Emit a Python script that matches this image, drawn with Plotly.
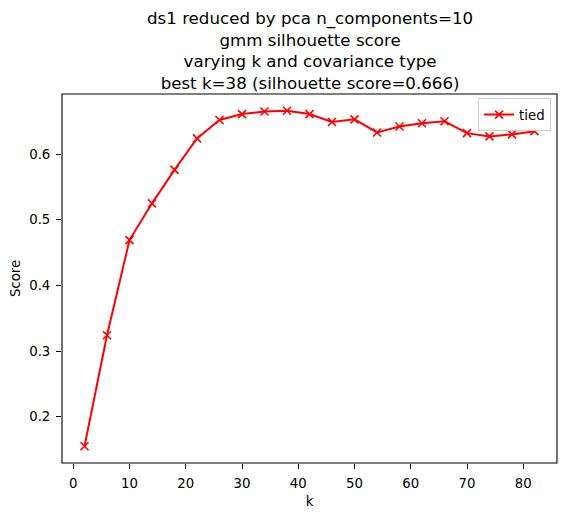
import plotly.graph_objects as go

k_values = [2, 6, 10, 14, 18, 22, 26, 30, 34, 38, 42, 46, 50, 54, 58, 62, 66, 70, 74, 78, 82]
tied_scores = [0.155, 0.324, 0.469, 0.525, 0.576, 0.624, 0.652, 0.661, 0.665, 0.666, 0.661,
               0.649, 0.653, 0.633, 0.642, 0.647, 0.650, 0.632, 0.627, 0.630, 0.635]
series_name = "tied"
title_lines = [
    "ds1 reduced by pca n_components=10",
    "gmm silhouette score",
    "varying k and covariance type",
    "best k=38 (silhouette score=0.666)",
]
x_ticks = [0, 10, 20, 30, 40, 50, 60, 70, 80]
y_ticks = [0.2, 0.3, 0.4, 0.5, 0.6]

FONT = "DejaVu Sans"

fig = go.Figure()
fig.add_trace(go.Scatter(
    x=k_values, y=tied_scores, mode="lines+markers", name=series_name,
    line=dict(color="red", width=2),
    marker=dict(symbol="x-thin", size=8, color="red", line=dict(color="red", width=1.6)),
))

axis_common = dict(
    showline=False,
    ticks="outside", ticklen=5, tickwidth=1.1, tickcolor="black",
    showgrid=False, zeroline=False, automargin=False,
    ticklabelstandoff=3,
    tickfont=dict(family=FONT, size=13.3, color="black"),
)

# page body has an 8px margin, so the figure is sized/offset to compensate
fig.update_layout(
    width=554, height=501,
    margin=dict(l=54, r=5, t=86, b=46, autoexpand=False),
    paper_bgcolor="white", plot_bgcolor="white",
    font=dict(family=FONT, color="black"),
    showlegend=True,
    legend=dict(x=0.988, y=0.988, xanchor="right", yanchor="top",
                bgcolor="white", bordercolor="#cccccc", borderwidth=1,
                itemwidth=30, tracegroupgap=0,
                font=dict(family=FONT, size=13.3, color="black")),
    xaxis=dict(range=[-2, 86], tickvals=x_ticks, ticktext=[str(t) for t in x_ticks],
               title=dict(text="k", font=dict(family=FONT, size=13.3), standoff=6),
               **axis_common),
    yaxis=dict(range=[0.1294, 0.6916], tickvals=y_ticks, ticktext=[f"{t:.1f}" for t in y_ticks],
               title=dict(text="Score", font=dict(family=FONT, size=13.3), standoff=8),
               **axis_common),
)

fig.add_shape(type="rect", xref="paper", yref="paper", x0=0, y0=0, x1=1, y1=1,
              line=dict(color="black", width=1.1), layer="above")

fig.add_annotation(
    text="<br>".join(title_lines), xref="paper", yref="paper", x=0.5, y=1,
    xanchor="center", yanchor="bottom", yshift=-1, showarrow=False,
    font=dict(family=FONT, size=16.67, color="black"), align="center",
)

fig.write_html("out.html")
